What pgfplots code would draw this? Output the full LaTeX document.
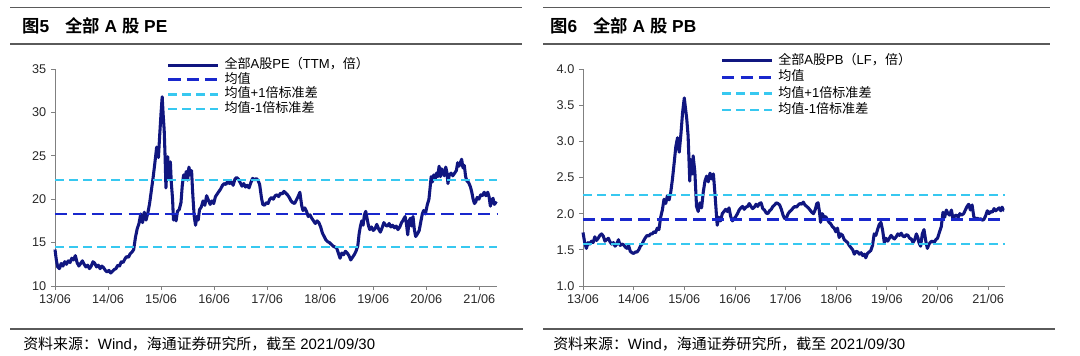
\documentclass[border=0pt]{standalone}
\usepackage{fontspec}
\setmainfont{Liberation Sans}
\newfontfamily\cjk{Noto Sans CJK SC}[BoldFont={Noto Sans CJK SC Bold}]
\usepackage{pgfplots}
\pgfplotsset{compat=1.18}
\definecolor{navyline}{RGB}{16,22,128}
\definecolor{meanblue}{RGB}{25,40,205}
\definecolor{stdblue}{RGB}{55,200,240}
\definecolor{hdr}{RGB}{90,90,90}
\definecolor{axgray}{RGB}{128,128,128}
\definecolor{lab}{RGB}{40,40,40}

\pgfplotstableread{
m v
0 14.2
0.3 13.0
0.6 12.2
1.0 12.0
1.4 12.6
1.8 12.3
2.2 12.8
2.6 12.5
3.0 12.9
3.4 12.7
3.8 13.2
4.2 13.0
4.6 13.5
5.0 12.7
5.4 12.3
5.8 12.6
6.2 12.9
6.6 12.5
7.0 12.2
7.4 12.4
7.8 12.0
8.2 12.3
8.6 12.8
9.0 12.6
9.4 12.2
9.8 12.4
10.2 12.0
10.6 12.3
11.0 12.1
11.4 11.8
11.8 11.6
12.2 11.8
12.6 11.5
13.0 11.7
13.4 11.9
13.8 12.0
14.2 12.4
14.6 12.3
15.0 12.8
15.4 12.7
15.8 13.1
16.2 13.4
16.6 13.3
17.0 13.7
17.4 13.9
17.8 14.2
18.2 15.6
18.6 16.6
19.0 17.2
19.4 18.3
19.8 17.3
20.2 18.5
20.6 17.6
21.0 18.4
21.4 19.5
21.8 21.0
22.2 22.5
22.6 24.2
23.0 26.0
23.4 24.8
23.7 27.5
24.0 30.0
24.25 31.8
24.5 29.5
24.7 28.0
24.9 25.0
25.1 21.3
25.3 23.5
25.5 24.9
25.7 22.4
25.9 23.0
26.1 24.3
26.3 22.0
26.6 20.0
26.8 17.6
27.1 18.2
27.4 17.5
27.7 18.6
28.1 18.8
28.5 19.6
28.8 21.6
29.1 22.8
29.4 22.3
29.7 23.2
30.0 22.2
30.3 23.7
30.6 22.8
30.9 23.3
31.1 21.2
31.3 19.5
31.5 18.0
31.8 17.0
32.1 18.0
32.4 17.6
32.7 18.8
33.1 19.1
33.5 19.8
33.9 19.3
34.3 20.4
34.7 19.9
35.1 19.4
35.5 19.8
35.9 19.5
36.3 20.3
36.7 20.6
37.1 20.9
37.5 21.2
37.9 21.6
38.3 21.8
38.7 21.7
39.1 22.1
39.5 21.8
39.9 22.0
40.3 21.6
40.7 22.3
41.1 22.5
41.5 22.3
41.9 21.9
42.3 21.5
42.7 21.8
43.1 21.4
43.5 21.6
43.9 21.3
44.3 21.9
44.7 22.4
45.1 22.2
45.5 22.4
45.9 22.2
46.3 21.7
46.7 20.2
47.0 19.4
47.4 19.3
47.8 19.6
48.2 19.5
48.6 20.0
49.0 20.2
49.4 20.0
49.8 20.4
50.2 20.5
50.6 20.3
51.0 20.7
51.4 20.6
51.8 20.9
52.2 20.7
52.6 20.5
53.0 20.2
53.4 19.8
53.8 19.6
54.2 19.5
54.6 19.9
55.0 20.3
55.4 20.8
55.8 19.3
56.1 18.7
56.5 19.0
56.9 18.6
57.3 18.0
57.7 18.2
58.1 17.8
58.5 17.5
58.9 17.2
59.3 17.5
59.7 17.3
60.1 16.8
60.5 16.1
60.9 15.7
61.3 15.3
61.7 15.1
62.1 15.0
62.5 14.8
62.9 14.6
63.3 14.5
63.7 14.4
64.1 13.8
64.5 13.2
64.9 13.8
65.3 13.6
65.7 14.0
66.1 13.8
66.5 13.5
66.9 13.0
67.3 13.3
67.7 13.6
68.1 14.0
68.5 14.6
68.8 16.0
69.1 16.9
69.4 17.5
69.7 17.0
70.0 18.2
70.3 18.6
70.6 17.8
70.9 17.0
71.2 16.5
71.6 16.8
72.0 16.4
72.4 16.6
72.8 17.1
73.2 16.6
73.6 16.2
74.0 16.7
74.4 17.3
74.8 17.0
75.2 16.9
75.6 17.2
76.0 16.8
76.4 17.0
76.8 16.7
77.2 16.9
77.6 16.5
78.0 16.8
78.4 17.3
78.8 17.6
79.2 18.0
79.5 17.2
79.8 15.9
80.1 17.5
80.4 17.8
80.7 16.9
81.0 18.0
81.3 16.5
81.6 15.7
82.0 16.0
82.4 16.4
82.8 17.5
83.1 18.3
83.4 18.7
83.8 18.3
84.2 19.3
84.6 20.0
84.9 21.5
85.1 22.6
85.4 22.0
85.7 22.8
86.0 22.3
86.3 23.0
86.6 22.6
86.9 23.8
87.2 22.6
87.5 23.5
87.8 23.0
88.1 22.7
88.4 23.7
88.7 23.0
88.9 21.8
89.2 22.8
89.6 23.0
90.0 22.7
90.4 23.0
90.8 23.3
91.1 24.2
91.4 23.8
91.7 24.2
92.0 24.6
92.3 23.6
92.6 23.9
92.9 22.6
93.2 22.1
93.6 21.9
94.0 21.4
94.3 20.8
94.6 20.0
94.9 19.5
95.2 19.7
95.5 20.2
95.9 20.0
96.3 20.5
96.7 20.4
97.1 20.8
97.5 20.4
97.9 20.8
98.2 20.3
98.5 19.2
98.8 19.9
99.1 20.1
99.4 19.4
99.7 19.6
99.9 19.5
}\petable

\pgfplotstableread{
m v
0 1.74
0.4 1.60
0.8 1.52
1.2 1.60
1.6 1.58
2.0 1.62
2.4 1.60
2.8 1.68
3.2 1.63
3.6 1.66
4.0 1.70
4.4 1.72
4.8 1.69
5.2 1.62
5.6 1.64
6.0 1.66
6.4 1.61
6.8 1.58
7.2 1.60
7.6 1.55
8.0 1.58
8.4 1.64
8.8 1.56
9.2 1.58
9.6 1.57
10.0 1.54
10.4 1.52
10.8 1.56
11.2 1.48
11.6 1.46
12.0 1.45
12.4 1.47
12.8 1.47
13.2 1.50
13.6 1.55
14.0 1.58
14.4 1.63
14.8 1.67
15.2 1.70
15.6 1.69
16.0 1.72
16.4 1.72
16.8 1.75
17.2 1.74
17.6 1.80
18.0 1.78
18.4 1.95
18.8 2.05
19.2 2.20
19.6 2.14
20.0 2.25
20.4 2.19
20.8 2.30
21.2 2.48
21.6 2.70
22.0 2.93
22.4 3.05
22.8 2.85
23.2 3.10
23.6 3.40
24.0 3.60
24.3 3.45
24.6 3.30
24.9 3.08
25.3 2.45
25.5 2.75
25.9 2.55
26.1 2.80
26.5 2.58
26.9 2.10
27.3 2.03
27.7 2.15
28.1 2.08
28.5 2.30
28.9 2.45
29.3 2.52
29.7 2.44
30.1 2.56
30.5 2.48
30.9 2.55
31.3 2.25
31.6 2.00
31.8 1.84
32.2 1.95
32.6 1.90
33.0 2.00
33.4 2.03
33.8 2.06
34.2 2.03
34.6 2.08
35.0 1.96
35.4 1.90
35.8 1.93
36.2 1.96
36.6 2.00
37.0 2.05
37.4 2.08
37.8 2.10
38.2 2.06
38.6 2.09
39.0 2.10
39.4 2.14
39.8 2.10
40.2 2.07
40.6 2.09
41.0 2.13
41.4 2.10
41.8 2.14
42.2 2.15
42.6 2.07
43.0 2.05
43.4 2.01
43.8 2.00
44.2 2.04
44.6 2.06
45.0 2.10
45.4 2.12
45.8 2.15
46.2 2.14
46.6 2.12
47.0 2.06
47.4 1.98
47.8 1.93
48.2 1.94
48.6 2.00
49.0 2.03
49.4 2.05
49.8 2.08
50.2 2.10
50.6 2.09
51.0 2.12
51.4 2.14
51.8 2.13
52.2 2.16
52.6 2.12
53.0 2.10
53.4 2.08
53.8 2.05
54.2 2.02
54.6 2.00
55.0 2.05
55.4 2.14
55.7 2.15
56.0 2.04
56.3 1.88
56.7 2.00
57.1 1.95
57.5 1.96
57.9 1.92
58.3 1.88
58.7 1.86
59.1 1.82
59.5 1.80
59.9 1.75
60.3 1.80
60.7 1.67
61.1 1.72
61.5 1.70
61.9 1.64
62.3 1.62
62.7 1.60
63.1 1.56
63.5 1.53
63.9 1.50
64.3 1.44
64.7 1.48
65.1 1.47
65.5 1.44
65.9 1.46
66.3 1.42
66.7 1.44
67.0 1.39
67.4 1.45
67.8 1.47
68.2 1.49
68.6 1.56
69.0 1.72
69.4 1.70
69.8 1.78
70.2 1.85
70.6 1.88
71.0 1.77
71.4 1.60
71.8 1.66
72.2 1.62
72.6 1.66
73.0 1.70
73.4 1.67
73.8 1.65
74.2 1.68
74.6 1.72
75.0 1.70
75.4 1.73
75.8 1.69
76.2 1.68
76.6 1.71
77.0 1.70
77.4 1.66
77.8 1.65
78.2 1.60
78.6 1.64
79.0 1.72
79.4 1.66
79.6 1.60
80.0 1.55
80.4 1.72
80.8 1.78
81.2 1.63
81.6 1.52
82.0 1.58
82.4 1.61
82.8 1.62
83.2 1.60
83.6 1.64
84.0 1.66
84.5 1.75
84.9 1.82
85.3 2.02
85.7 1.95
86.1 2.05
86.5 2.00
86.9 1.98
87.3 2.05
87.7 1.92
88.1 1.97
88.5 1.98
88.9 1.95
89.3 2.00
89.7 1.98
90.2 2.00
90.6 2.05
91.0 2.10
91.4 2.13
91.8 2.05
92.2 2.12
92.6 1.96
93.0 1.92
93.4 1.94
93.8 1.92
94.2 1.93
94.6 1.91
95.0 1.92
95.4 1.97
95.8 2.04
96.2 2.00
96.6 2.03
97.0 2.02
97.4 2.07
97.8 2.04
98.2 2.06
98.6 2.08
99.0 2.04
99.3 2.09
99.6 2.05
99.8 2.05
}\pbtable

\pgfplotsset{
  valstyle/.style={
    scale only axis,
    anchor=south west,
    axis x line*=bottom,
    axis y line*=left,
    axis line style={axgray, line width=0.6pt},
    every tick/.style={axgray, line width=0.6pt},
    tick align=outside,
    major tick length=3pt,
    xmin=0, xmax=100,
    xtick={0,12,...,96},
    xticklabels={13/06,14/06,15/06,16/06,17/06,18/06,19/06,20/06,21/06},
    tick label style={font=\fontsize{9.5}{11}\selectfont, text=lab},
    /pgf/number format/assume math mode=true,
    clip=false,
    legend cell align=left,
    legend image code/.code={\draw[##1] (0pt,0pt) -- (37.5pt,0pt);},
    legend style={draw=none, fill=none, inner sep=0pt, outer sep=0pt,
      column sep=3.5pt, font=\fontsize{9.8}{10}\selectfont,
      nodes={inner sep=0pt, text height=7pt, text depth=2pt}},
  },
  mainline/.style={navyline, line width=2.3pt, line join=round},
  meanline/.style={meanblue, line width=2pt, dash pattern=on 9.2pt off 4.6pt},
  stdline/.style={stdblue, line width=1.9pt, dash pattern=on 6.4pt off 4.1pt},
}

\begin{document}
\begin{tikzpicture}
\useasboundingbox (0,0) rectangle (810pt,267pt);
% headers
\draw[hdr, line width=1.1pt] (7.5pt,261.3pt) -- (391.5pt,261.3pt);
\draw[hdr, line width=1.1pt] (7.5pt,234pt) -- (391.5pt,234pt);
\draw[hdr, line width=1.1pt] (407.25pt,261.3pt) -- (787.5pt,261.3pt);
\draw[hdr, line width=1.1pt] (407.25pt,234pt) -- (787.5pt,234pt);
\node[anchor=west, inner sep=0pt, font=\fontsize{13}{15}\selectfont\bfseries] at (16.5pt,247.5pt)
  {{\cjk 图}5\hspace{12pt}{\cjk 全部} A {\cjk 股} PE};
\node[anchor=west, inner sep=0pt, font=\fontsize{13}{15}\selectfont\bfseries] at (412.5pt,247.5pt)
  {{\cjk 图}6\hspace{12pt}{\cjk 全部} A {\cjk 股} PB};
% footers
\draw[hdr, line width=1.1pt] (7.5pt,20.25pt) -- (392.25pt,20.25pt);
\draw[hdr, line width=1.1pt] (407.25pt,20.25pt) -- (791.25pt,20.25pt);
\node[anchor=west, inner sep=0pt, font=\fontsize{11.2}{13}\selectfont] at (17.25pt,9pt)
  {{\cjk 资料来源：}Wind{\cjk ，海通证券研究所，截至} 2021/09/30};
\node[anchor=west, inner sep=0pt, font=\fontsize{11.2}{13}\selectfont] at (414.75pt,9pt)
  {{\cjk 资料来源：}Wind{\cjk ，海通证券研究所，截至} 2021/09/30};

% PE
\begin{axis}[valstyle,
  at={(41.25pt,52.5pt)}, width=331.5pt, height=162.75pt,
  ymin=10, ymax=35, ytick={10,15,...,35},
  legend style={at={(0.253,1.045)}, anchor=north west, row sep=1.9pt},
]
\addplot[mainline] table[x=m,y=v] {\petable};
\addlegendentry{{\cjk 全部}A{\cjk 股}PE{\cjk （}TTM{\cjk ，倍）}}
\addplot[meanline] coordinates {(0,18.3) (100,18.3)};
\addlegendentry{{\cjk 均值}}
\addplot[stdline] coordinates {(0,22.2) (100,22.2)};
\addlegendentry{{\cjk 均值}+1{\cjk 倍标准差}}
\addplot[stdline] coordinates {(0,14.5) (100,14.5)};
\addlegendentry{{\cjk 均值}-1{\cjk 倍标准差}}
\end{axis}

% PB
\begin{axis}[valstyle,
  at={(437.25pt,52.5pt)}, width=316.5pt, height=162.75pt,
  ymin=1, ymax=4, ytick={1,1.5,...,4},
  yticklabel style={/pgf/number format/.cd, fixed, fixed zerofill, precision=1},
  legend style={at={(0.326,1.065)}, anchor=north west, row sep=3.3pt},
]
\addplot[mainline] table[x=m,y=v] {\pbtable};
\addlegendentry{{\cjk 全部}A{\cjk 股}PB{\cjk （}LF{\cjk ，倍）}}
\addplot[meanline] coordinates {(0,1.92) (100,1.92)};
\addlegendentry{{\cjk 均值}}
\addplot[stdline] coordinates {(0,2.26) (100,2.26)};
\addlegendentry{{\cjk 均值}+1{\cjk 倍标准差}}
\addplot[stdline] coordinates {(0,1.58) (100,1.58)};
\addlegendentry{{\cjk 均值}-1{\cjk 倍标准差}}
\end{axis}
\end{tikzpicture}
\end{document}
